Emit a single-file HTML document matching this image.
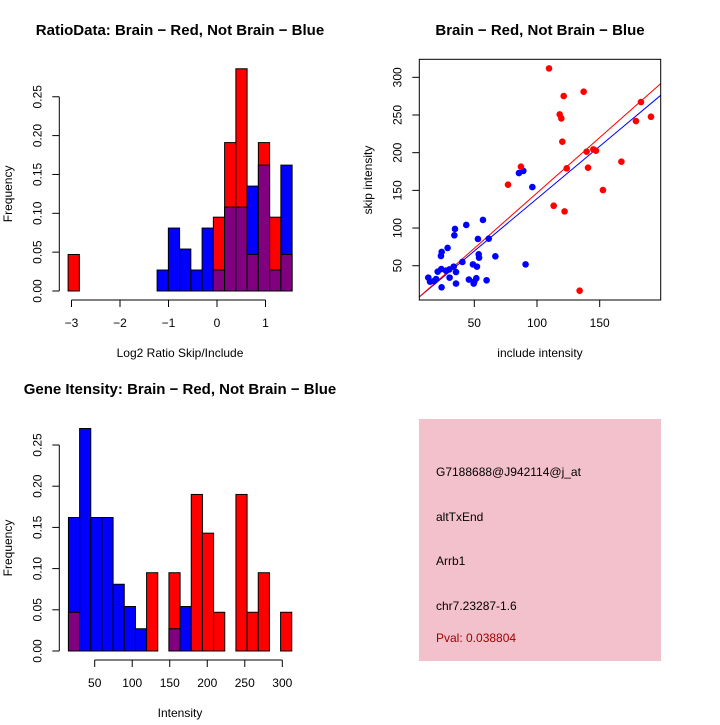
<!DOCTYPE html>
<html><head><meta charset="utf-8"><style>
body{margin:0;background:#fff}
svg text{font-family:"Liberation Sans",sans-serif}
</style></head><body>
<svg id="s" width="720" height="720" xmlns="http://www.w3.org/2000/svg">
<rect width="720" height="720" fill="#fff"/>
<g id="g1"></g>
<g id="g2"></g>
<g id="g3"></g>
<g>
<rect x="419" y="419" width="242" height="242" fill="#f3c1cc"/>
<text x="436" y="476" font-size="12">G7188688@J942114@j_at</text>
<text x="436" y="521" font-size="12">altTxEnd</text>
<text x="436" y="565" font-size="12">Arrb1</text>
<text x="436" y="610" font-size="12">chr7.23287-1.6</text>
<text x="436" y="642" font-size="12" fill="#a00000">Pval: 0.038804</text>
</g>
</svg>
<script>
// Ratio histogram data
const ratioBinLeft = [-3.07,-1.235,-1.003,-0.771,-0.539,-0.307,-0.075,0.157,0.389,0.621,0.853,1.085,1.317];
const ratioRed  = [0.047,0,0,0,0,0,0.095,0.191,0.286,0.047,0.191,0.095,0.047];
const ratioBlue = [0,0.027,0.081,0.054,0.027,0.081,0.027,0.108,0.108,0.135,0.162,0.027,0.162];
const ratioXTicks = [-3,-2,-1,0,1];
const freqTicks = [0,0.05,0.10,0.15,0.20,0.25];
const freqLabels = ["0.00","0.05","0.10","0.15","0.20","0.25"];
// Intensity histogram data
const intBinLeft = [15,29.88,44.76,59.64,74.52,89.4,104.28,119.16,134.04,148.92,163.8,178.68,193.56,208.44,223.32,238.2,253.08,267.96,282.84,297.72];
const intRed  = [0.047,0,0,0,0,0,0,0.095,0,0.095,0,0.190,0.143,0.047,0,0.190,0.047,0.095,0,0.047];
const intBlue = [0.162,0.270,0.162,0.162,0.081,0.054,0.027,0,0,0.027,0.054,0,0,0,0,0,0,0,0,0];
const intXTicks = [50,100,150,200,250,300];
// Scatter data
const redX = [109.6,137.2,121.3,118.1,119.4,182.9,190.9,178.9,120.2,144.9,139.6,147.0,140.7,123.7,167.3,87.2,76.9,152.6,113.3,122.0,134.0];
const redY = [311.8,280.9,275.2,250.8,245.5,267.2,247.7,242.0,214.6,204.4,201.3,202.6,180.1,179.2,188.0,181.4,157.5,150.4,129.6,122.1,16.9];
const blueX = [89.1,85.6,96.3,56.9,43.6,34.6,34.1,52.9,61.5,28.7,24.0,23.4,53.5,53.8,66.8,40.5,33.6,48.9,52.1,90.9,23.7,20.8,35.4,27.4,19.5,13.3,14.7,30.3,45.7,51.6,49.5,59.8,35.4,23.9,30.1,50,17.9];
const blueY = [175.8,173.0,154.4,110.7,104.1,98.8,90.4,85.5,85.9,73.6,68.3,62.9,65.1,60.7,62.5,55.0,48.8,51.8,48.8,51.8,45.6,42.1,41.6,43.4,32.3,34.2,28.8,34.2,31.6,33.4,26.3,30.7,26.3,21.4,45.1,28.8,29.6];
const scXTicks = [50,100,150];
const scYTicks = [50,100,150,200,250,300];
const redFit = [-0.4,1.47];
const blueFit = [0,1.39];

const NS="http://www.w3.org/2000/svg";
function mk(parent,tag,attrs,text){const e=document.createElementNS(NS,tag);for(const k in attrs)e.setAttribute(k,attrs[k]);if(text!==undefined)e.textContent=text;parent.appendChild(e);return e;}

function histo(g,o){
  const sx=v=>o.x0+(v-o.xv0)*o.kx, sy=v=>o.y0-v*o.ky;
  const w=o.bw*o.kx;
  o.left.forEach((l,i)=>{
    const r=o.red[i], b=o.blue[i], mx=Math.max(r,b), mn=Math.min(r,b);
    if(mx>0){
      const e=mk(g,'rect',{x:sx(l),y:sy(mx),width:w,height:sy(0)-sy(mx),fill:r>=b?'#ff0000':'#0000ff',stroke:'#000','stroke-width':1});
      
      
    }
    if(mn>0){
      const e=mk(g,'rect',{x:sx(l),y:sy(mn),width:w,height:sy(0)-sy(mn),fill:'#800080',stroke:'#000','stroke-width':1});
      
      
    }
  });
  const ya=mk(g,'g',{});
  
  
  mk(ya,'line',{x1:o.yax,x2:o.yax,y1:sy(0),y2:sy(0.25),stroke:'#000'});
  freqTicks.forEach((t,i)=>{
    mk(ya,'line',{x1:o.yax-7,x2:o.yax,y1:sy(t),y2:sy(t),stroke:'#000'});
    const tx=mk(ya,'text',{x:o.yax-18,y:sy(t),'font-size':12,'text-anchor':'middle',transform:`rotate(-90 ${o.yax-18} ${sy(t)})`},freqLabels[i]);
    
    
  });
  const yt=mk(g,'text',{x:12,y:(sy(0)+sy(0.25))/2,'font-size':12,'text-anchor':'middle',transform:`rotate(-90 12 ${(sy(0)+sy(0.25))/2})`},'Frequency');
  
  
  const xa=mk(g,'g',{});
  
  
  const tk=o.ticks;
  mk(xa,'line',{x1:sx(tk[0]),x2:sx(tk[tk.length-1]),y1:o.xay,y2:o.xay,stroke:'#000'});
  tk.forEach(t=>{
    mk(xa,'line',{x1:sx(t),x2:sx(t),y1:o.xay,y2:o.xay+7,stroke:'#000'});
    const tx=mk(xa,'text',{x:sx(t),y:o.xay+27,'font-size':12,'text-anchor':'middle'},String(t).replace('-','\u2212'));
    
    
  });
  const xt=mk(g,'text',{x:o.xtx,y:o.xty,'font-size':12,'text-anchor':'middle'},o.xlab);
  
  
  const ti=mk(g,'text',{x:o.tx,y:o.ty,'font-size':15,'font-weight':'bold','text-anchor':'middle'},o.title);
  
  
}
histo(document.getElementById('g1'),{left:ratioBinLeft,red:ratioRed,blue:ratioBlue,bw:0.2316,x0:217,xv0:0,kx:48.5,y0:291,ky:777,yax:59.3,xay:300,ticks:ratioXTicks,xlab:'Log2 Ratio Skip/Include',xtx:180,xty:357,title:'RatioData: Brain \u2212 Red, Not Brain \u2212 Blue',tx:180,ty:35});
histo(document.getElementById('g3'),{left:intBinLeft,red:intRed,blue:intBlue,bw:14.88,x0:94.7,xv0:50,kx:0.7504,y0:651,ky:824,yax:59.3,xay:660,ticks:intXTicks,xlab:'Intensity',xtx:180,xty:717,title:'Gene Itensity: Brain \u2212 Red, Not Brain \u2212 Blue',tx:180,ty:394});

(function(){
  const g=document.getElementById('g2');
  const sx=v=>411.6+v*1.254, sy=v=>303.4-v*0.7536;
  const X0=419.3,X1=660.7,Y0=59.3,Y1=300;
  const cp=mk(g,'clipPath',{id:'cp'});mk(cp,'rect',{x:X0,y:Y0,width:X1-X0,height:Y1-Y0});
  const xl=(X0-411.6)/1.254, xr=(X1-411.6)/1.254;
  [[blueFit,'#0000ff','fit-line-blue'],[redFit,'#ff0000','fit-line-red']].forEach(([f,c,n])=>{
    const l=mk(g,'line',{x1:sx(xl),y1:sy(f[0]+f[1]*xl),x2:sx(xr),y2:sy(f[0]+f[1]*xr),stroke:c,'clip-path':'url(#cp)'});
    
    
  });
  blueX.forEach((x,i)=>{const p=mk(g,'circle',{cx:sx(x),cy:sy(blueY[i]),r:3.3,fill:'#0000ff'});
    
    });
  redX.forEach((x,i)=>{const p=mk(g,'circle',{cx:sx(x),cy:sy(redY[i]),r:3.3,fill:'#ff0000'});
    
    });
  const fr=mk(g,'rect',{x:X0,y:Y0,width:X1-X0,height:Y1-Y0,fill:'none',stroke:'#000'});
  
  
  scXTicks.forEach(t=>{mk(g,'line',{x1:sx(t),x2:sx(t),y1:Y1,y2:Y1+7,stroke:'#000'});
    const tx=mk(g,'text',{x:sx(t),y:Y1+27,'font-size':12,'text-anchor':'middle'},String(t));
    
    });
  scYTicks.forEach(t=>{mk(g,'line',{x1:X0-7,x2:X0,y1:sy(t),y2:sy(t),stroke:'#000'});
    const tx=mk(g,'text',{x:X0-18,y:sy(t),'font-size':12,'text-anchor':'middle',transform:`rotate(-90 ${X0-18} ${sy(t)})`},String(t));
    
    });
  const xt=mk(g,'text',{x:540,y:357,'font-size':12,'text-anchor':'middle'},'include intensity');
  
  
  const yt=mk(g,'text',{x:372,y:180,'font-size':12,'text-anchor':'middle',transform:'rotate(-90 372 180)'},'skip intensity');
  
  
  const ti=mk(g,'text',{x:540,y:35,'font-size':15,'font-weight':'bold','text-anchor':'middle'},'Brain \u2212 Red, Not Brain \u2212 Blue');
  
  
})();
</script>
</body></html>
